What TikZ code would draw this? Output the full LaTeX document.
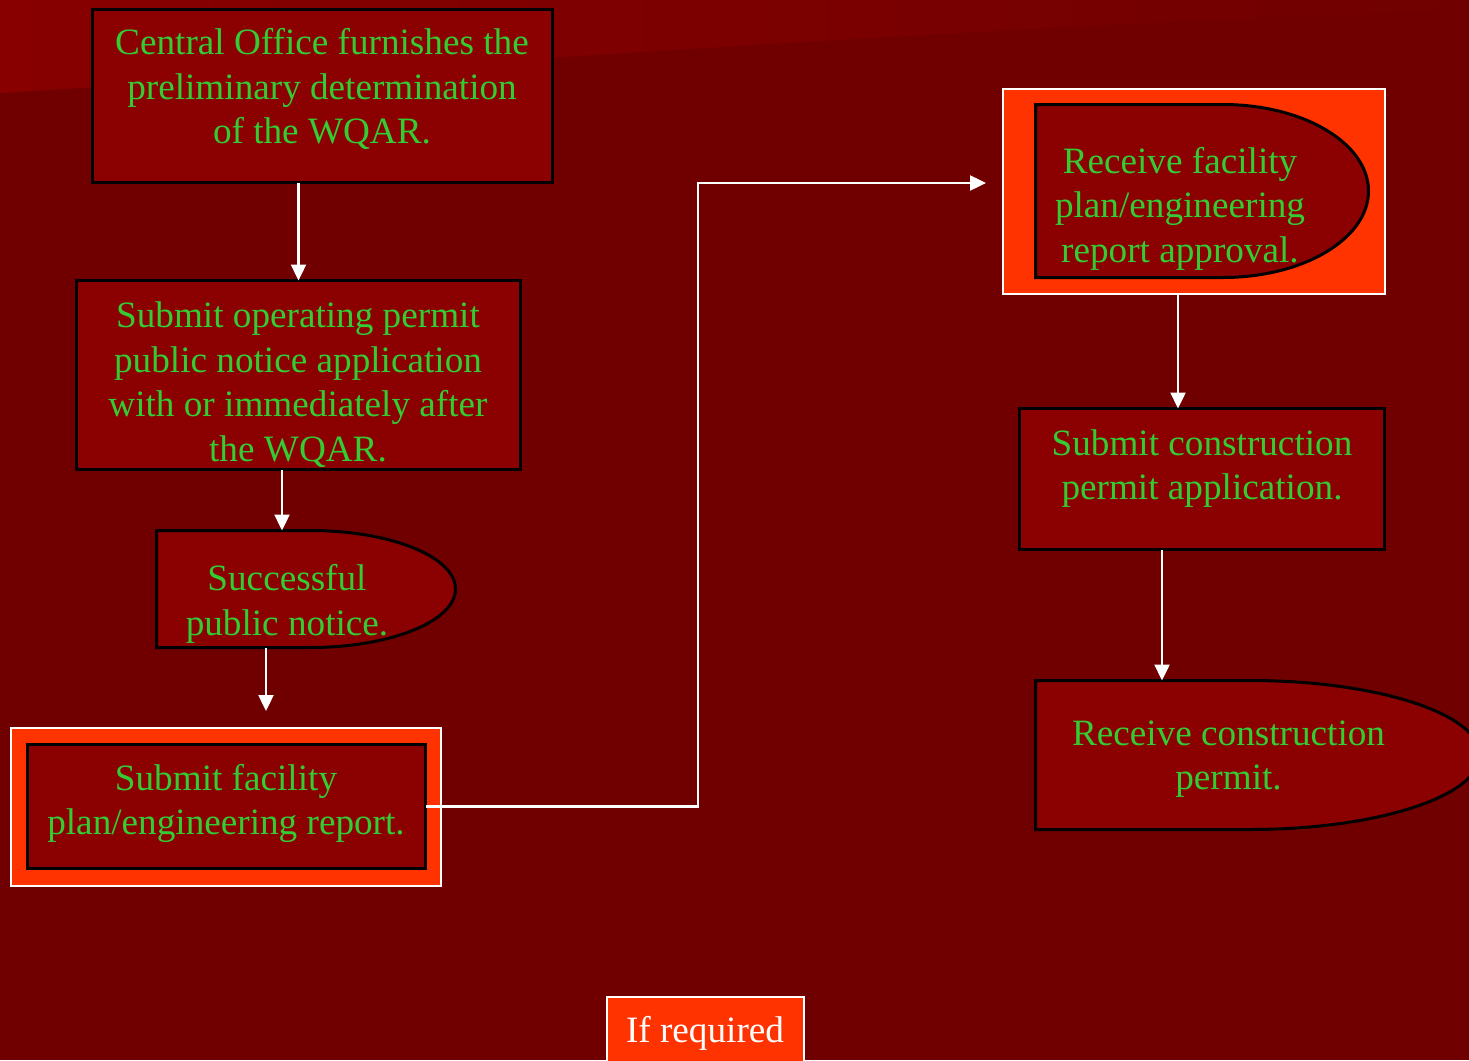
\documentclass[tikz,border=0pt]{standalone}
\usepackage{fontspec}
\setmainfont{Liberation Serif}
\usetikzlibrary{arrows.meta,calc}
\definecolor{bgred}{HTML}{700000}
\definecolor{bandred}{HTML}{880000}
\definecolor{boxred}{HTML}{8B0000}
\definecolor{txtgreen}{HTML}{33CC33}
\definecolor{hilite}{HTML}{FF3300}
\begin{document}
\begin{tikzpicture}[x=1pt,y=-1pt,
  txt/.style={text=txtgreen, font=\fontsize{37.2}{44.5}\selectfont, align=center, inner sep=0pt},
  boxshape/.style={draw=black, line width=3pt, fill=boxred},
  frame/.style={inner sep=0pt, outer sep=0pt},
  outerbox/.style={draw=white, line width=2pt, fill=hilite},
  arr/.style={draw=white, line width=2.4pt, -{Triangle[width=15pt,length=16pt]}},
]
\useasboundingbox (0,0) rectangle (1469,1060);
\clip (0,0) rectangle (1469,1060);
% background
\fill[bgred] (0,0) rectangle (1469,1060);
\shade[left color=bandred, right color=bgred] (0,0) -- (0,93) .. controls (500,62) and (1000,25) .. (1469,10) -- (1469,0) -- cycle;

% A
\node[frame, boxshape, minimum width=460pt, minimum height=173pt] (A) at (322.5,96) {};
\node[txt] (At) at (322,89) {Central Office furnishes the\\preliminary determination\\of the WQAR.};
% B
\node[frame, boxshape, minimum width=444pt, minimum height=189pt] (B) at (298.5,375) {};
\node[txt] (Bt) at (298,384.5) {Submit operating permit\\public notice application\\with or immediately after\\the WQAR.};
% C delay
\node[frame, minimum width=300pt, minimum height=117pt] (C) at (306.5,589) {};
\path[boxshape] (C.north west) -- ++(153.5,0) arc[start angle=-90, end angle=90, x radius=145.5, y radius=58.5] -- (C.south west) -- cycle;
\node[txt] (Ct) at (287,604) {Successful\\public notice.};
% D
\node[frame, outerbox, minimum width=430pt, minimum height=158pt] (Dout) at (226,807) {};
\node[frame, boxshape, minimum width=398pt, minimum height=124pt] (Din) at (226.5,806.5) {};
\node[txt] (Dt) at (226,803.5) {Submit facility\\plan/engineering report.};
% E
\node[frame, outerbox, minimum width=382pt, minimum height=205pt] (Eout) at (1194,191.5) {};
\node[frame, minimum width=333pt, minimum height=173pt] (Ein) at (1202,191) {};
\path[boxshape] (Ein.north west) -- ++(187.5,0) arc[start angle=-90, end angle=90, x radius=145.5, y radius=86.5] -- (Ein.south west) -- cycle;
\node[txt] (Et) at (1180,208.5) {Receive facility\\plan/engineering\\report approval.};
% F
\node[frame, boxshape, minimum width=365pt, minimum height=141pt] (F) at (1202,479) {};
\node[txt] (Ft) at (1202,468.5) {Submit construction\\permit application.};
% G delay
\node[frame, minimum width=444.5pt, minimum height=149pt] (G) at (1257.75,755) {};
\path[boxshape] (G.north west) -- ++(214.5,0) arc[start angle=-90, end angle=90, x radius=230, y radius=74.5] -- (G.south west) -- cycle;
\node[txt] (Gt) at (1228.5,759) {Receive construction\\permit.};
% If required
\node[frame, outerbox, minimum width=197pt, minimum height=83pt] (IR) at (705.5,1038.5) {};
\node[txt, text=white, anchor=base] (IRt) at (705,1042) {If required};

% connectors
\draw[arr] (A.south -| B.north) -- (B.north);
\draw[arr] ([xshift=-16.5pt]B.south) -- ([xshift=-16.5pt]B.south |- C.north);
\draw[arr] ([xshift=-40.5pt]C.south) -- ([xshift=40pt,yshift=17pt]Dout.north);
\coordinate (tip) at (986,183);
\draw[arr] (Din.east) -- ++(272.5,0) |- (tip);
\draw[arr] ([xshift=-16pt]Eout.south) -- ([xshift=-16pt]Eout.south |- F.north);
\draw[arr] ([xshift=-40pt]F.south) -- ([xshift=-40pt]F.south |- G.north);
\end{tikzpicture}
\end{document}
